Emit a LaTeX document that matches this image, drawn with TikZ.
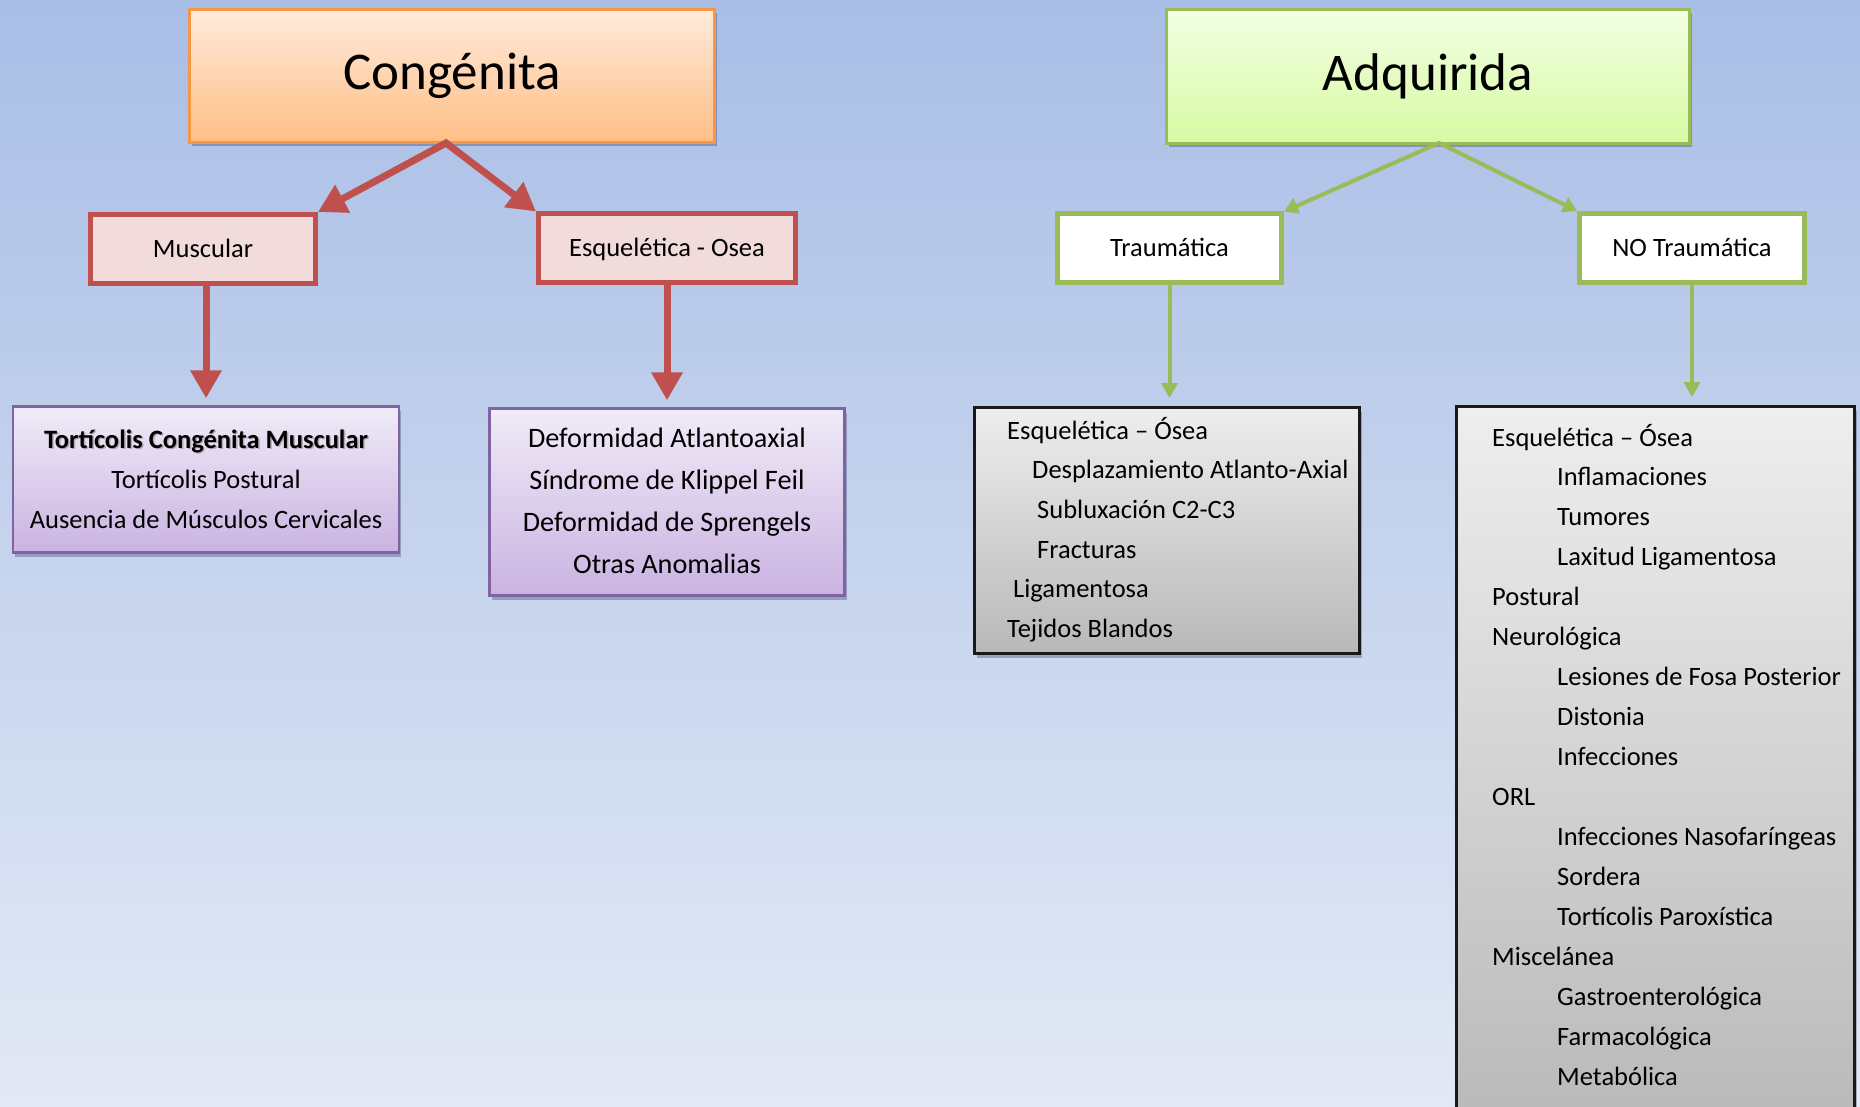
\documentclass[tikz,border=0pt]{standalone}
\usepackage{fontspec}
\setmainfont{Carlito}
\usetikzlibrary{arrows.meta,shadows,calc}

\definecolor{bgtop}{HTML}{A9BEE6}
\definecolor{bgbot}{HTML}{E3E9F5}
\definecolor{redc}{HTML}{C0504D}
\definecolor{pinkc}{HTML}{F2DCDB}
\definecolor{orangec}{HTML}{F79646}
\definecolor{orangetop}{HTML}{FFEBDC}
\definecolor{orangebot}{HTML}{FFBE85}
\definecolor{greenc}{HTML}{9BBB59}
\definecolor{limetop}{HTML}{F2FFE4}
\definecolor{limebot}{HTML}{D7FAA2}
\definecolor{purc}{HTML}{8064A2}
\definecolor{purtop}{HTML}{F0EBF8}
\definecolor{purbot}{HTML}{CAB3E1}
\definecolor{graytop}{HTML}{EEEEEE}
\definecolor{graybot}{HTML}{B8B8B8}

\begin{document}
\begin{tikzpicture}[x=1pt,y=-1pt,
  box/.style={rectangle, inner sep=0pt, align=center},
  softshadow/.style={drop shadow={shadow xshift=2pt, shadow yshift=-4pt, opacity=0.25, fill=black!80!blue}},
  titlebox/.style={box, line width=2.5pt, softshadow,
    font=\fontsize{53}{60}\selectfont, text height=34pt, text depth=6pt},
  catbox/.style={box, line width=5pt,
    font=\fontsize{26.5}{32}\selectfont, text height=17pt, text depth=0pt},
  redbox/.style={catbox, draw=redc, fill=pinkc},
  greenbox/.style={catbox, draw=greenc, fill=white},
  purplebox/.style={box, draw=purc, line width=2.5pt, top color=purtop, bottom color=purbot, softshadow},
  graybox/.style={box, draw=black!90, line width=3pt, top color=graytop, bottom color=graybot, softshadow},
  item/.style={inner sep=0pt, font=\fontsize{26.5}{32}\selectfont},
  bigitem/.style={inner sep=0pt, font=\fontsize{28.2}{34}\selectfont},
  redarrow/.style={draw=redc, line width=7pt, line join=miter,
    {Triangle[width=30pt,length=28pt]}-{Triangle[width=30pt,length=28pt]}},
  reddown/.style={draw=redc, line width=7pt, -{Triangle[width=30pt,length=28pt]}},
  greenarrow/.style={draw=greenc, line width=4pt, line join=miter,
    {Triangle[width=16pt,length=14pt]}-{Triangle[width=16pt,length=14pt]}},
  greendown/.style={draw=greenc, line width=4pt, -{Triangle[width=16pt,length=15pt]}}
]
\useasboundingbox (0,0) rectangle (1860,1107);
\fill[top color=bgtop, bottom color=bgbot] (0,0) rectangle (1860,1107);

% ---- Congénita branch ----
\node[titlebox, draw=orangec, top color=orangetop, bottom color=orangebot,
      minimum width=525pt, minimum height=133pt] (cong) at (452,76) {Congénita};
\node[redbox, minimum width=225pt, minimum height=69pt] (musc) at (203,249) {Muscular};
\node[redbox, minimum width=257pt, minimum height=69pt] (esq) at (667,248.5) {Esquelética - Osea};

\node[purplebox, minimum width=386pt, minimum height=146pt] (tort) at (206,479.5) {};
\node[purplebox, minimum width=355pt, minimum height=187pt] (defo) at (667,502) {};

\node[item, anchor=base, text=black!50, opacity=0.55] (tcs) at (207.5,449.5) {\bfseries Tortícolis Congénita Muscular};
\node[item, anchor=base] (tc1) at (206,448) {\bfseries Tortícolis Congénita Muscular};
\node[item, anchor=base] (tc2) at (206,488) {Tortícolis Postural};
\node[item, anchor=base] (tc3) at (206,528) {Ausencia de Músculos Cervicales};

\foreach \txt [count=\i] in {Deformidad Atlantoaxial, Síndrome de Klippel Feil,
    Deformidad de Sprengels, Otras Anomalias}
  \node[bigitem, anchor=base] (df\i) at (667,{447+42.3*(\i-1)}) {\txt};

\coordinate (cs) at (446,143);
\draw[redarrow] (musc.north east) -- (cs) -- (esq.north west);
\coordinate (tortTop) at ([yshift=7pt]tort.north);
\coordinate (defoTop) at ([yshift=7pt]defo.north);
\draw[reddown] (musc.south -| tortTop) -- (tortTop);
\draw[reddown] (esq.south -| defoTop) -- (defoTop);

% ---- Adquirida branch ----
\node[titlebox, draw=greenc, top color=limetop, bottom color=limebot,
      minimum width=523pt, minimum height=134pt] (adq) at (1428,76.5) {Adquirida};
\node[greenbox, minimum width=224pt, minimum height=69pt] (trau) at (1169.5,248.5) {Traumática};
\node[greenbox, minimum width=225pt, minimum height=69pt] (notr) at (1692,248) {NO Traumática};

\node[graybox, minimum width=385pt, minimum height=246pt] (g1) at (1167,530.5) {};
\foreach \ix/\txt [count=\i] in {1007/{Esquelética – Ósea}, 1032/{Desplazamiento Atlanto-Axial},
    1037/{Subluxación C2-C3}, 1037/{Fracturas}, 1013/{Ligamentosa}, 1007/{Tejidos Blandos}}
  \node[item, anchor=base west] (ga\i) at (\ix,{439+39.7*(\i-1)}) {\txt};

\begin{scope}
  \clip (0,0) rectangle (1860,1107);
  \node[graybox, minimum width=398pt, minimum height=732pt] (g2) at (1655.5,772.5) {};
\end{scope}
\foreach \lv/\txt [count=\i] in {1/{Esquelética – Ósea}, 2/{Inflamaciones}, 2/{Tumores},
    2/{Laxitud Ligamentosa}, 1/{Postural}, 1/{Neurológica}, 2/{Lesiones de Fosa Posterior},
    2/{Distonia}, 2/{Infecciones}, 1/{ORL}, 2/{Infecciones Nasofaríngeas}, 2/{Sordera},
    2/{Tortícolis Paroxística}, 1/{Miscelánea}, 2/{Gastroenterológica},
    2/{Farmacológica}, 2/{Metabólica}}
  \node[item, anchor=base west] (gb\i) at ({\lv==1 ? 1492 : 1557},{446+39.94*(\i-1)}) {\txt};

\coordinate (gs) at (1439,143);
\draw[greenarrow] (trau.north east) -- (gs) -- (notr.north west);
\coordinate (g1Top) at ([yshift=8pt]g1.north);
\coordinate (g2Top) at ([yshift=8pt]g2.north);
\draw[greendown] (trau.south) -- (trau.south |- g1Top);
\draw[greendown] (notr.south) -- (notr.south |- g2Top);
\end{tikzpicture}
\end{document}
